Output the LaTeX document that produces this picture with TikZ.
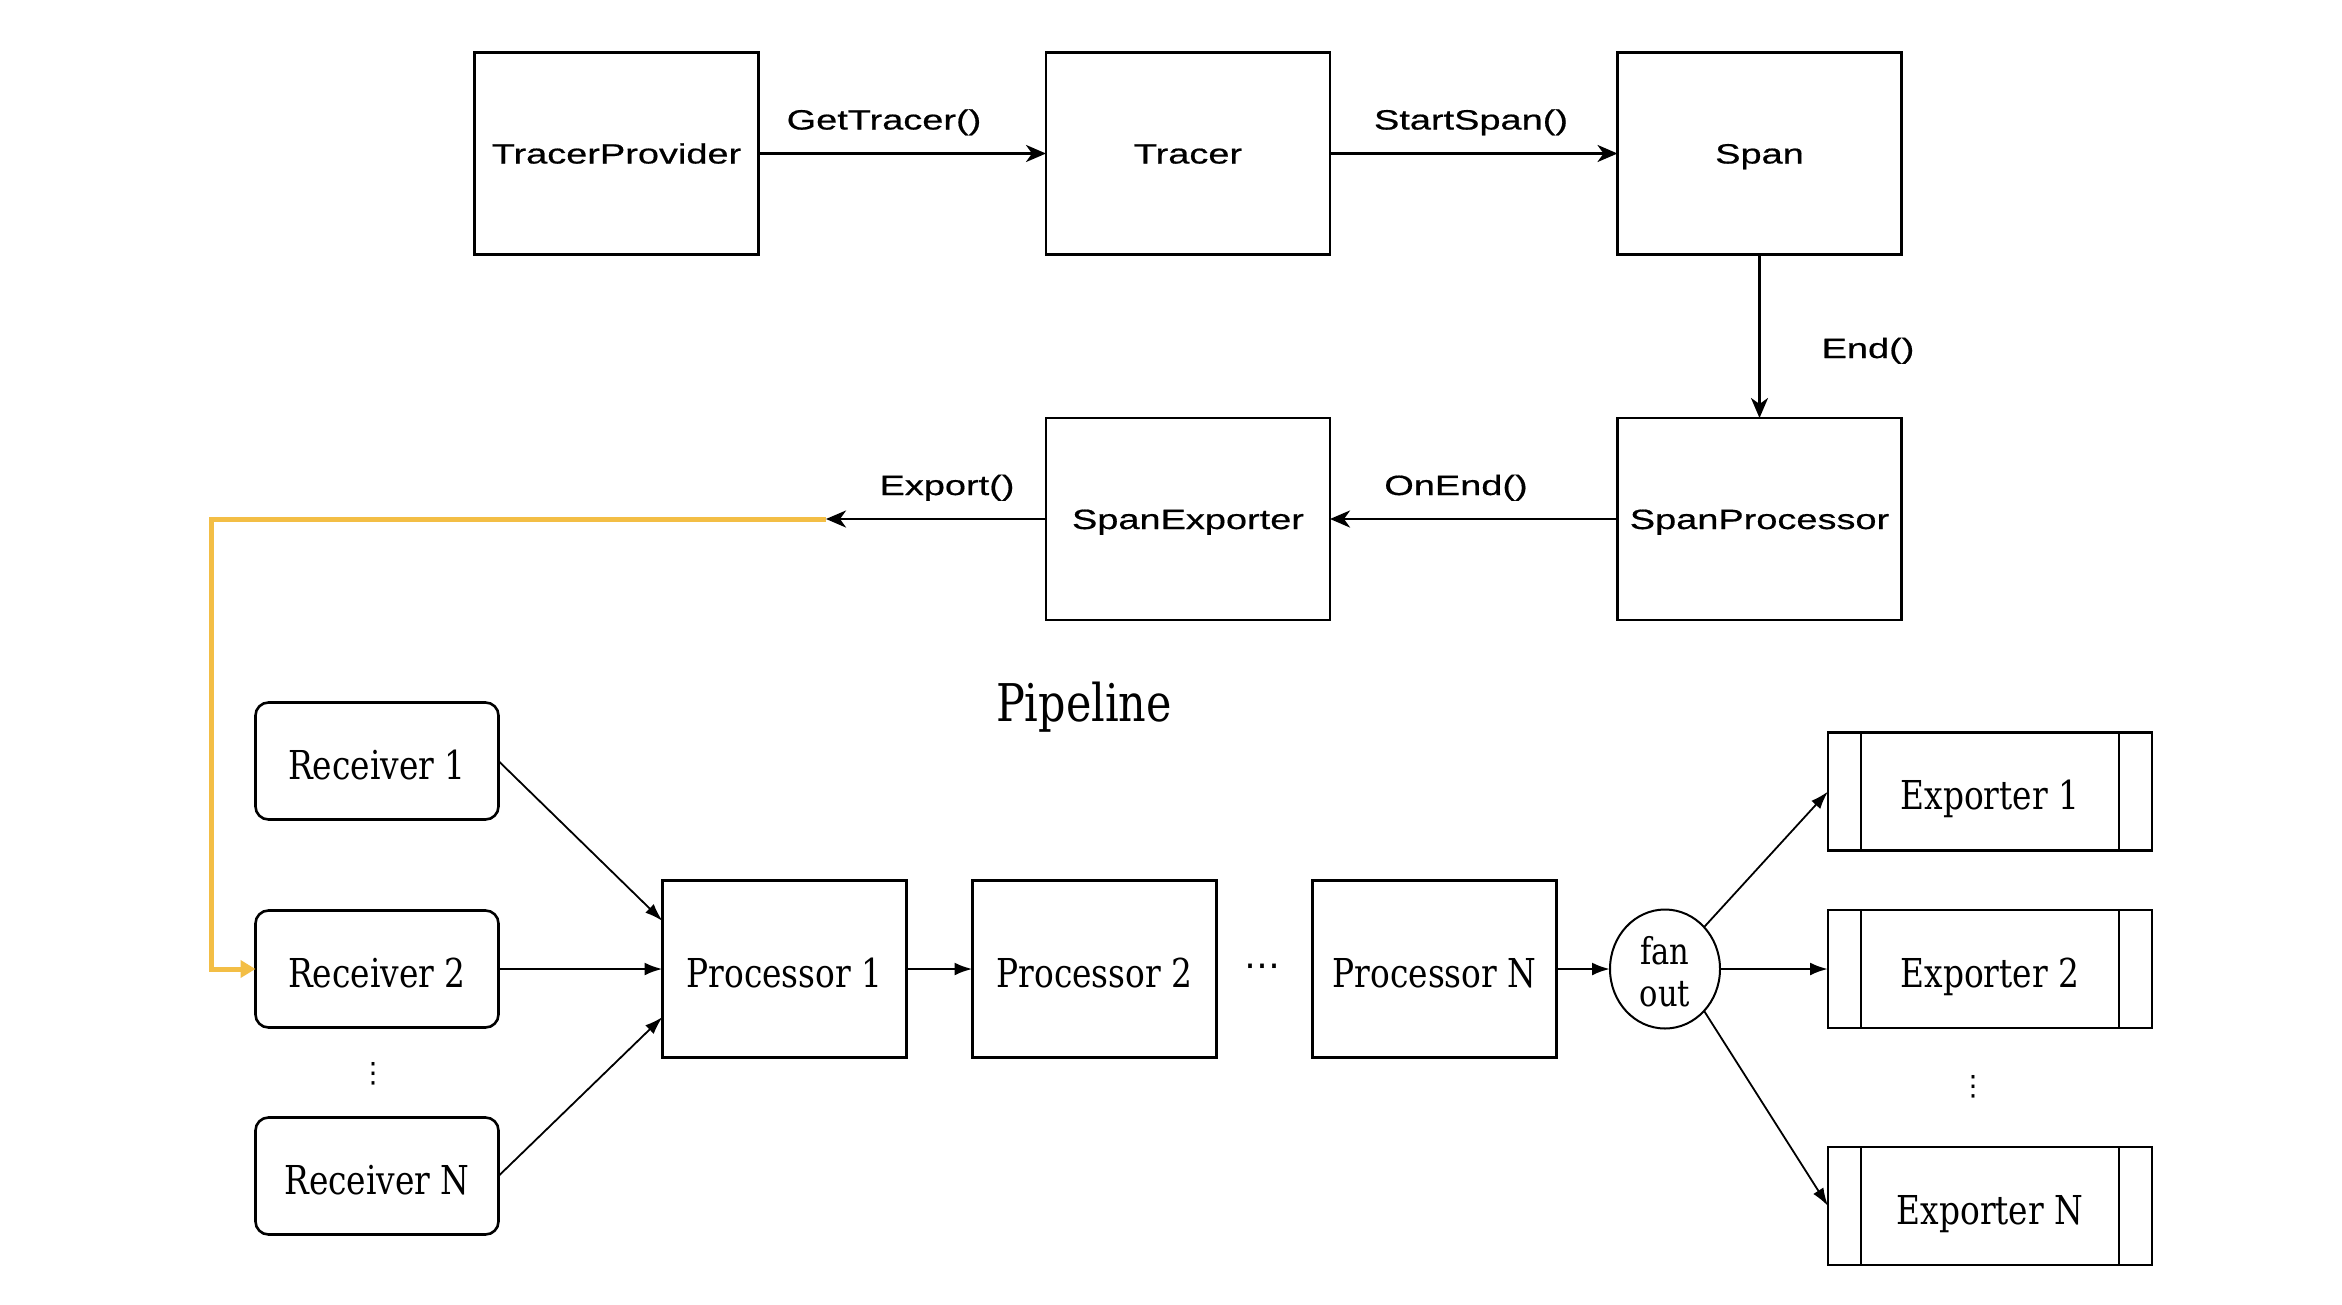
\documentclass[tikz,border=0pt]{standalone}
\usepackage{fontspec}
\setmainfont{Liberation Sans}
\newfontfamily\callfont{Liberation Sans}[FakeStretch=1.36,FakeBold=0.6]
\newfontfamily\pipefont{DejaVu Serif}[FakeStretch=0.825]
\newfontfamily\dotsfont{DejaVu Sans}
\usetikzlibrary{arrows.meta,shapes.geometric}
\definecolor{exportline}{HTML}{F3BE45}

\tikzset{
  apibox/.style={draw, line width=2.8pt, minimum width=284pt, minimum height=202pt,
    inner sep=0pt, outer sep=0pt, font=\callfont\fontsize{27.9}{32}\selectfont,
    text height=20pt, text depth=0pt},
  apilabel/.style={inner sep=0pt, font=\callfont\fontsize{27.9}{32}\selectfont,
    text height=20pt, text depth=0pt},
  callarrow/.style={line width=2.8pt, -{Stealth[length=20pt,width=17pt,inset=6pt]}},
  pipetext/.style={font=\pipefont\fontsize{39.8}{44}\selectfont, text height=36pt, text depth=0pt},
  receiver/.style={pipetext, draw, rounded corners=13pt, line width=2.6pt,
    minimum width=243pt, minimum height=117pt, inner sep=0pt, outer sep=0pt},
  processor/.style={pipetext, draw, line width=2.6pt,
    minimum width=244pt, minimum height=177pt, inner sep=0pt, outer sep=0pt},
  exporter/.style={pipetext, draw, line width=2.6pt,
    minimum width=324pt, minimum height=118pt, inner sep=0pt, outer sep=0pt,
    path picture={
      \draw[line width=2.6pt]
        ([xshift=33pt]path picture bounding box.north west) --
        ([xshift=33pt]path picture bounding box.south west)
        ([xshift=-33pt]path picture bounding box.north east) --
        ([xshift=-33pt]path picture bounding box.south east);}},
  fanout/.style={draw, ellipse, line width=2pt, minimum width=110pt, minimum height=119pt,
    inner sep=0pt, outer sep=0pt},
  fantext/.style={inner sep=0pt, align=center,
    font=\pipefont\fontsize{37}{42}\selectfont},
  flow/.style={line width=2.6pt, -{Latex[length=18pt,width=13pt]}},
  slant/.style={line width=1.8pt, -{Latex[length=18pt,width=12pt]}},
  feed/.style={draw=exportline, line width=5pt, -{Triangle[length=15pt,width=17pt]}},
  gap/.style={font=\dotsfont\fontsize{28}{30}\selectfont, inner sep=0pt},
}

\begin{document}
\begin{tikzpicture}[x=1pt, y=-1pt]
  \fill[white] (0,0) rectangle (2342,1304);
  \useasboundingbox (0,0) rectangle (2342,1304);

  % tracing API objects
  \node[apibox] (tp)    at (616.5,153.5) {TracerProvider};
  \node[apibox] (tr)    at (1188,153.5)  {Tracer};
  \node[apibox] (sp)    at (1759.5,153.5) {Span};
  \node[apibox] (sproc) at (1759.5,519)  {SpanProcessor};
  \node[apibox] (sexp)  at (1188,519)    {SpanExporter};

  \node[apilabel] (lget)   at (884,119.5)  {GetTracer()};
  \node[apilabel] (lstart) at (1471,119.5) {StartSpan()};
  \node[apilabel] (lend)   at (1868,348)   {End()};
  \node[apilabel] (lon)    at (1456,485)   {OnEnd()};
  \node[apilabel] (lexp)   at (947,485)    {Export()};

  \coordinate (exptip) at (826,519);
  \coordinate (bend)   at (211,519);

  % pipeline
  \node[font=\pipefont\fontsize{52}{56}\selectfont, inner sep=0pt] (title) at (1084,707) {Pipeline};

  \node[receiver] (r1) at (377,761)  {Receiver 1};
  \node[receiver] (r2) at (377,969)  {Receiver 2};
  \node[receiver] (rn) at (377,1176) {Receiver N};
  \node[gap] (rdots) at (373,1074) {⋮};

  \node[processor] (p1) at (784.5,969)  {Processor 1};
  \node[processor] (p2) at (1094.5,969) {Processor 2};
  \node[gap, font=\dotsfont\fontsize{36}{38}\selectfont] (pdots) at (1262,971) {⋯};
  \node[processor] (pn) at (1434.5,969) {Processor N};

  \node[fanout] (fan) at (1665,969) {};
  \node[fantext] (fanlabel) at (1665,972) {fan\\out};

  \node[exporter] (e1) at (1990,791.5) {Exporter 1};
  \node[exporter] (e2) at (1990,969)   {Exporter 2};
  \node[exporter] (en) at (1990,1206)  {Exporter N};
  \node[gap] (edots) at (1973,1087) {⋮};

  % exported spans feed the pipeline
  \draw[feed] (exptip) -- (bend) |- (r2.west);

  % API call arrows
  \draw[callarrow] (tp) -- (tr);
  \draw[callarrow] (tr) -- (sp);
  \draw[callarrow] (sp) -- (sproc);
  \draw[callarrow] (sproc) -- (sexp);
  \draw[callarrow] (sexp.west) -- (exptip);

  % pipeline arrows
  \draw[slant] (r1.east) -- ([yshift=48pt]p1.west);
  \draw[flow]  (r2.east) -- (p1.west);
  \draw[slant] (rn.east) -- ([yshift=-48pt]p1.west);
  \draw[flow]  (p1) -- (p2);
  \draw[flow]  (pn.east) -- (fan.west);
  \draw[slant] (fan.47) -- (e1.west);
  \draw[flow]  (fan.east) -- (e2.west);
  \draw[slant] (fan.-47) -- (en.west);
\end{tikzpicture}
\end{document}
